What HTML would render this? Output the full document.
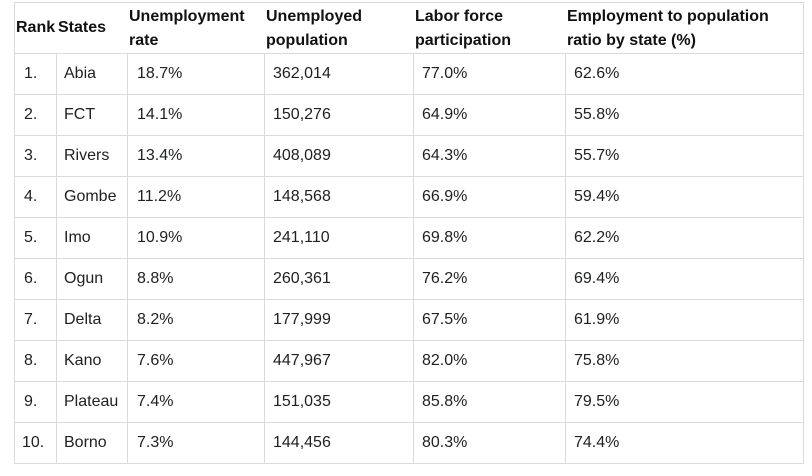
<!DOCTYPE html>
<html><head><style>
body{margin:0;background:#fff;width:812px;height:476px;position:relative;font-family:"Liberation Sans",Arial,sans-serif;color:#202122;overflow:hidden}
.b{position:absolute;background:#dadada}
.t{position:absolute;font-size:16px;white-space:nowrap;line-height:18px}
.h{position:absolute;font-size:16px;font-weight:bold;line-height:24px;color:#111}
</style></head><body>
<div class="b" style="left:14px;top:2px;width:790px;height:1px"></div>
<div class="b" style="left:14px;top:2px;width:1px;height:462px"></div>
<div class="b" style="left:803px;top:2px;width:1px;height:462px"></div>
<div id="g"></div>
<div class="h" style="left:16px;top:16px">Rank</div>
<div class="h" style="left:58px;top:16px">States</div>
<div class="h" style="left:129px;top:5px">Unemployment<br>rate</div>
<div class="h" style="left:266px;top:5px">Unemployed<br>population</div>
<div class="h" style="left:415px;top:5px">Labor force<br>participation</div>
<div class="h" style="left:567px;top:5px">Employment to population<br>ratio by state (%)</div>
<script>
var d=[["1.","Abia","18.7%","362,014","77.0%","62.6%"],["2.","FCT","14.1%","150,276","64.9%","55.8%"],["3.","Rivers","13.4%","408,089","64.3%","55.7%"],["4.","Gombe","11.2%","148,568","66.9%","59.4%"],["5.","Imo","10.9%","241,110","69.8%","62.2%"],["6.","Ogun","8.8%","260,361","76.2%","69.4%"],["7.","Delta","8.2%","177,999","67.5%","61.9%"],["8.","Kano","7.6%","447,967","82.0%","75.8%"],["9.","Plateau","7.4%","151,035","85.8%","79.5%"],["10.","Borno","7.3%","144,456","80.3%","74.4%"]];
var xs=[24,64,137,273,422,574],vx=[56,127,264,413,565],h="";
for(var i=0;i<=10;i++)h+='<div class="b" style="left:14px;top:'+(53+i*41)+'px;width:790px;height:1px"></div>';
for(var j=0;j<5;j++)h+='<div class="b" style="left:'+vx[j]+'px;top:53px;width:1px;height:411px"></div>';
for(var i=0;i<10;i++)for(var j=0;j<6;j++)h+='<div class="t" style="left:'+(j==0&&i==9?22:xs[j])+'px;top:'+(65+i*41)+'px">'+d[i][j]+'</div>';
document.getElementById("g").innerHTML=h;
</script>
</body></html>
